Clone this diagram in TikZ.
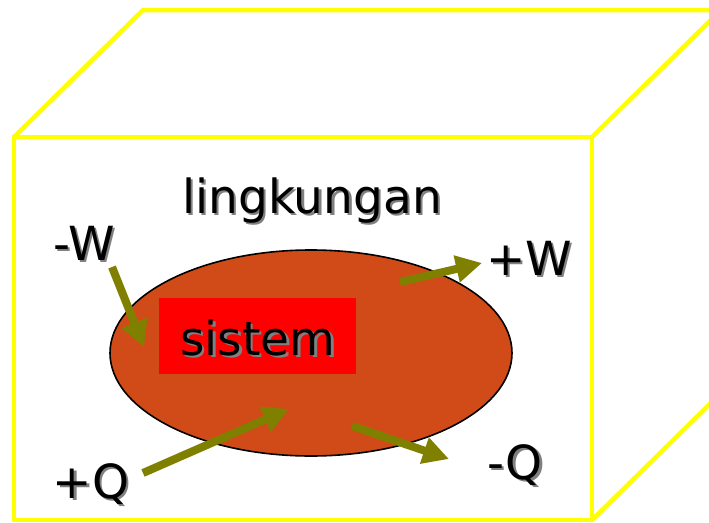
\documentclass[tikz,border=0pt]{standalone}
\usepackage{fontspec}
\setmainfont{DejaVu Sans}
\usetikzlibrary{arrows.meta,shapes.geometric}
\definecolor{boxyellow}{HTML}{FFFF00}
\definecolor{sysorange}{HTML}{D14B18}
\definecolor{arrowolive}{HTML}{808000}
\tikzset{
  edge/.style={draw=boxyellow, line width=4.5pt, line join=miter},
  lbl/.style={font=\fontsize{47}{50}\selectfont, inner sep=0pt, anchor=base},
  shadowlbl/.style={lbl, text=black!50},
  flow/.style={draw=arrowolive, line width=8pt, -{Triangle[length=26pt,width=26pt]}, arrowolive}
}
\begin{document}
\begin{tikzpicture}[x=1pt,y=-1pt]
\useasboundingbox (0,0) rectangle (709,522);
\clip (0,0) rectangle (709,522);
\fill[white] (0,0) rectangle (709,522);
% box
\coordinate (fa) at (14,137);
\coordinate (fb) at (592,137);
\coordinate (fc) at (592,520);
\coordinate (fd) at (14,520);
\coordinate (ba) at (143,10);
\coordinate (bb) at (721,10);
\coordinate (bc) at (721,393);
\draw[edge] (fa) -- (fb) -- (fc) -- (fd) -- cycle;
\draw[edge] (fa) -- (ba) -- (bb) -- (fb);
\draw[edge] (bb) -- (bc) -- (fc);
% system
\node (sys) [ellipse, draw=black, line width=1.6pt, fill=sysorange, minimum width=402pt, minimum height=206pt, inner sep=0pt] at (311,353) {};
\node (sysbox) [fill=red, minimum width=197pt, minimum height=76pt, inner sep=0pt] at (257.5,336) {};
% label shadows
\node (ssis) [shadowlbl] at (260.5,357.5) {sistem};
\node (sling) [shadowlbl] at (314.5,215.5) {lingkungan};
\node (smw) [shadowlbl] at (86.5,262.5) {-W};
\node (spw) [shadowlbl] at (531.5,277.5) {+W};
\node (spq) [shadowlbl] at (93.5,500.5) {+Q};
\node (smq) [shadowlbl] at (517.5,481.5) {-Q};
% labels
\node (tsis) [lbl] at (258,355) {sistem};
\node (tling) [lbl] at (312,213) {lingkungan};
\node (tmw) [lbl] at (84,260) {-W};
\node (tpw) [lbl] at (529,275) {+W};
\node (tpq) [lbl] at (91,498) {+Q};
\node (tmq) [lbl] at (515,479) {-Q};
% arrows
\coordinate (a1s) at (112,267); \coordinate (a1e) at (144,347);
\coordinate (a2s) at (400,282); \coordinate (a2e) at (482,263);
\coordinate (a3s) at (143,473); \coordinate (a3e) at (289,409);
\coordinate (a4s) at (352,426); \coordinate (a4e) at (449,459);
\draw[flow] (a1s) -- (a1e);
\draw[flow] (a2s) -- (a2e);
\draw[flow] (a3s) -- (a3e);
\draw[flow] (a4s) -- (a4e);
\end{tikzpicture}
\end{document}
